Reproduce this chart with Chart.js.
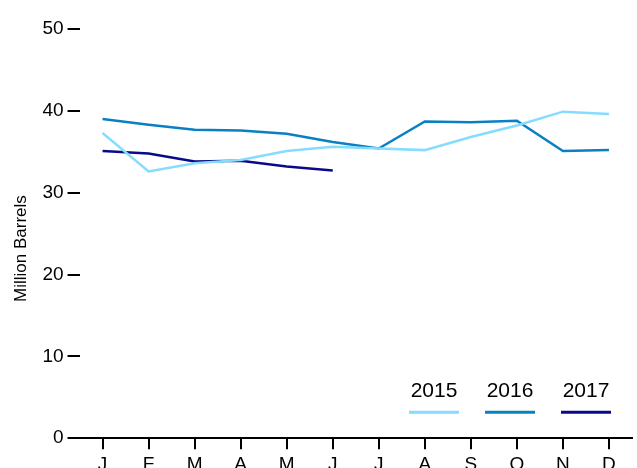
<!DOCTYPE html>
<html>
<head>
<meta charset="utf-8">
<script src="https://cdn.jsdelivr.net/npm/chart.js@4"></script>
<style>
  html, body { margin: 0; padding: 0; overflow: hidden; background: #fff; }
  #wrap { width: 637px; height: 468px; overflow: hidden; }
</style>
</head>
<body>
<div id="wrap"><canvas id="canvas-barrels" width="637" height="480"></canvas></div>
<script>
const months = ['J', 'F', 'M', 'A', 'M', 'J', 'J', 'A', 'S', 'O', 'N', 'D']
const years = ['2015', '2016', '2017']

const barrels2015 = [37.3, 32.6, 33.6, 34.0, 35.1, 35.6, 35.4, 35.2, 36.8, 38.2, 39.9, 39.6]
const barrels2016 = [39.0, 38.3, 37.7, 37.6, 37.2, 36.2, 35.4, 38.7, 38.6, 38.8, 35.1, 35.2]
const barrels2017 = [35.1, 34.8, 33.8, 33.9, 33.2, 32.7]

const yTicks = [0, 10, 20, 30, 40, 50]
const yTitle = 'Million Barrels'

const lineColors = ['#85dcff', '#0a80c2', '#0a0a88']
const fontFamily = '"Liberation Sans", Arial, sans-serif'

// legend: year label with a short line segment underneath, bottom right.
// also draws the y title a little below the middle of the axis
const stackedLegend = {
  id: 'stackedLegend',
  afterDraw(chart) {
    const { ctx, chartArea } = chart
    const itemWidth = 76
    ctx.save()
    ctx.font = `21px ${fontFamily}`
    ctx.textAlign = 'center'
    ctx.textBaseline = 'middle'
    chart.data.datasets.forEach((ds, i) => {
      const cx = chartArea.right - 46 - (chart.data.datasets.length - 1 - i) * itemWidth
      ctx.fillStyle = '#000'
      ctx.fillText(ds.label, cx, chartArea.bottom - 47)
      ctx.strokeStyle = ds.borderColor
      ctx.lineWidth = 3
      ctx.beginPath()
      ctx.moveTo(cx - 25, chartArea.bottom - 26)
      ctx.lineTo(cx + 25, chartArea.bottom - 26)
      ctx.stroke()
    })

    const yScale = chart.scales.y
    ctx.translate(yScale.left + 10, (chartArea.top + chartArea.bottom) / 2 + 15)
    ctx.rotate(-Math.PI / 2)
    ctx.font = `17px ${fontFamily}`
    ctx.fillStyle = '#000'
    ctx.fillText(yTitle, 0, 0)
    ctx.restore()
  },
}

const seriesData = [barrels2015, barrels2016, barrels2017]

const datasets = years.map((year, index) => ({
  label: year,
  data: seriesData[index],
  borderColor: lineColors[index],
  backgroundColor: lineColors[index],
  borderWidth: 2.5,
  pointRadius: 0,
  tension: 0,
  fill: false,
}))

new Chart(document.getElementById('canvas-barrels').getContext('2d'), {
  type: 'line',
  data: { labels: months, datasets },
  options: {
    responsive: false,
    animation: false,
    layout: { padding: { top: 29, right: 5, left: 11, bottom: 0 } },
    plugins: {
      legend: { display: false },
      tooltip: { enabled: false },
    },
    scales: {
      x: {
        offset: true,
        border: { display: true, color: '#000', width: 2 },
        grid: {
          drawOnChartArea: false,
          drawTicks: true,
          tickLength: 11,
          color: '#000',
          lineWidth: 2,
          offset: false,
        },
        ticks: {
          color: '#000',
          padding: 4,
          maxRotation: 0,
          autoSkip: false,
          font: { family: fontFamily, size: 19 },
        },
      },
      y: {
        min: 0,
        max: 50,
        afterBuildTicks: (scale) => {
          scale.ticks = yTicks.map((value) => ({ value }))
        },
        border: { display: false },
        grid: {
          drawOnChartArea: false,
          drawTicks: true,
          tickLength: 12,
          color: '#000',
          lineWidth: 2,
        },
        ticks: {
          color: '#000',
          padding: 4,
          font: { family: fontFamily, size: 19 },
        },
        // space is reserved here, the text itself is drawn by the plugin
        title: {
          display: true,
          text: yTitle,
          color: 'rgba(0,0,0,0)',
          padding: { top: 0, bottom: 7 },
          font: { family: fontFamily, size: 17 },
        },
      },
    },
  },
  plugins: [stackedLegend],
})
</script>
</body>
</html>
